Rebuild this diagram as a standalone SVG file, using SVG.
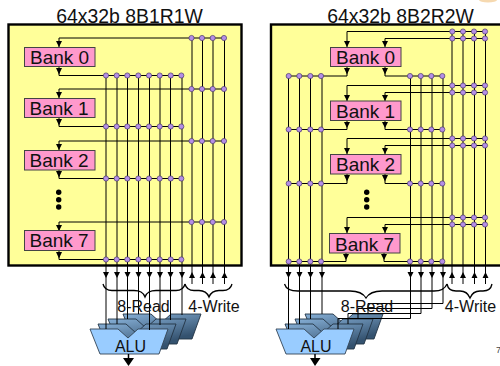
<svg xmlns="http://www.w3.org/2000/svg" width="500" height="366" viewBox="0 0 500 366">
<defs>
<circle id="d" r="2.6" fill="#b48ee6" stroke="#4a3a6a" stroke-width=".7"/>
<linearGradient id="g" x1="0" y1="0" x2="0.6" y2="1"><stop offset="0" stop-color="#86afd6"/><stop offset="1" stop-color="#34526f"/></linearGradient>
<path id="alu" d="M0 0H28L38 9L48 0H78L69 25H10Z" fill="#99ccff" stroke="#334455" stroke-width=".9"/>
<path id="alub" d="M0 0H28L38 9L48 0H78L69 25H10Z" fill="url(#g)" stroke="#223344" stroke-width=".9"/>
</defs>
<style>
.f{fill:#ffff99;stroke:#000;stroke-width:2.4}
.b rect{fill:#ff99cc;stroke:#444;stroke-width:1}
text{font-family:"Liberation Sans",Arial,sans-serif;fill:#111}
.b text{font-size:19px}
.t{font-size:19.4px;text-anchor:middle}
.l{font-size:16px;text-anchor:middle}
.w{fill:none;stroke:#000;stroke-width:1}
.br{fill:none;stroke:#000;stroke-width:1.3}
</style>
<ellipse cx="488" cy="0" rx="9" ry="2.500" fill="#f6d9b0"/>
<text class="t" x="129.500" y="22.500">64x32b 8B1R1W</text>
<text class="t" x="400.500" y="22.500">64x32b 8B2R2W</text>
<rect id="panel1" class="f" x="8.500" y="24.500" width="233" height="241"/>
<rect id="panel2" class="f" x="271" y="24.500" width="240" height="241"/>
<g id="alus1"><use href="#alub" x="123" y="314"/><use href="#alub" x="108" y="319"/><use href="#alub" x="98" y="324"/><use href="#alu" x="90" y="329"/></g>
<g id="alus2"><use href="#alub" x="305" y="314"/><use href="#alub" x="295" y="319"/><use href="#alub" x="285" y="324"/><use href="#alu" x="276" y="329"/></g>
<g id="connectors">
<path class="w" d="M59 38V47M59 38H224M59 89V98M59 89H224M59 141V150M59 141H224M59 222V230M59 222H224"/>
<path class="w" d="M59 67V75.500H181M59 118V126.500H181M59 170V178.500H181M59 251V259.500H181"/>
<path class="w" d="M106 75V329M117 75V324M127.500 75V319M138.500 75V314M149.500 75V330M160 75V325M170.500 75V320M182 75V315"/>
<path class="w" d="M192 38V284M202.500 38V284M213 38V284M224.500 38V284"/>
<path class="w" d="M347 31.500H485M385 38.500H485M347 85.500H485M385 92.500H485M347 138.500H485M385 145.500H485M347 217.500H485M385 224.500H485"/>
<path class="w" d="M347 31.500V47M385 38.500V47M347 85.500V101M385 92.500V101M347 138.500V154M385 145.500V154M347 217.500V233M385 224.500V233"/>
<path class="w" d="M347 67V76H289M385 67V76H443M347 121V129.500H289M385 121V129.500H443M347 174V183.500H289M385 174V183.500H443M346 253V261.500H289M384 253V261.500H443"/>
<path class="w" d="M288.500 76V329M299.500 76V324M310.500 76V319M322 76V314"/>
<path class="w" d="M410.500 76V318.500H338V329M421 76V313.500H348V324M432 76V308.500H358V319M443 76V303.500H368V314"/>
<path class="w" d="M452 31.500V284M463 31.500V284M474.500 31.500V284M485.500 31.500V284"/>
</g>
<g id="arrows" fill="#000">
<path d="M56 41H62L59 47ZM56 92H62L59 98ZM56 144H62L59 150ZM56 225H62L59 231ZM56 68H62L59 74.500ZM56 119H62L59 125.500ZM56 171H62L59 177.500ZM56 252H62L59 258.500Z"/>
<path d="M103 272H109L106 278ZM114 272H120L117 278ZM124.500 272H130.500L127.500 278ZM135.500 272H141.500L138.500 278ZM146.500 272H152.500L149.500 278ZM157 272H163L160 278ZM167.500 272H173.500L170.500 278ZM179 272H185L182 278Z"/>
<path d="M189 278H195L192 272ZM199.500 278H205.500L202.500 272ZM210 278H216L213 272ZM221.500 278H227.500L224.500 272Z"/>
<path d="M344 41H350L347 47ZM382 41H388L385 47ZM344 95H350L347 101ZM382 95H388L385 101ZM344 148H350L347 154ZM382 148H388L385 154ZM344 227H350L347 233ZM382 227H388L385 233ZM344 68H350L347 74.500ZM382 68H388L385 74.500ZM344 122H350L347 128ZM382 122H388L385 128ZM344 175H350L347 181.500ZM382 175H388L385 181.500ZM343 254H349L346 260ZM381 254H387L384 260Z"/>
<path d="M285.500 272H291.500L288.500 278ZM296.500 272H302.500L299.500 278ZM307.500 272H313.500L310.500 278ZM319 272H325L322 278ZM407.500 272H413.500L410.500 278ZM418 272H424L421 278ZM429 272H435L432 278ZM440 272H446L443 278Z"/>
<path d="M449 278H455L452 272ZM460 278H466L463 272ZM471.500 278H477.500L474.500 272ZM482.500 278H488.500L485.500 272Z"/>
</g>
<g id="dots">
<g id="dots1a"><use href="#d" x="106" y="75.500"/><use href="#d" x="116.700" y="75.500"/><use href="#d" x="127.300" y="75.500"/><use href="#d" x="138.300" y="75.500"/><use href="#d" x="149" y="75.500"/><use href="#d" x="159.700" y="75.500"/><use href="#d" x="170.700" y="75.500"/><use href="#d" x="181.300" y="75.500"/></g>
<use href="#dots1a" y="51"/><use href="#dots1a" y="103"/><use href="#dots1a" y="184"/>
<g id="dots1b"><use href="#d" x="191.500" y="38"/><use href="#d" x="202" y="38"/><use href="#d" x="212.700" y="38"/><use href="#d" x="224" y="38"/></g>
<use href="#dots1b" y="51"/><use href="#dots1b" y="103"/><use href="#dots1b" y="184"/>
<g id="dots2a"><use href="#d" x="288.700" y="76"/><use href="#d" x="299.300" y="76"/><use href="#d" x="310.300" y="76"/><use href="#d" x="321" y="76"/><use href="#d" x="410" y="76"/><use href="#d" x="420.700" y="76"/><use href="#d" x="431.300" y="76"/><use href="#d" x="442.300" y="76"/></g>
<use href="#dots2a" y="53.500"/><use href="#dots2a" y="107.500"/><use href="#dots2a" y="185.500"/>
<g id="dots2b"><use href="#d" x="452.300" y="31.500"/><use href="#d" x="463" y="31.500"/><use href="#d" x="474" y="31.500"/><use href="#d" x="485" y="31.500"/><use href="#d" x="452.300" y="38.500"/><use href="#d" x="463" y="38.500"/><use href="#d" x="474" y="38.500"/><use href="#d" x="485" y="38.500"/></g>
<use href="#dots2b" y="54"/><use href="#dots2b" y="107"/><use href="#dots2b" y="186"/>
</g>
<g id="bank1-0" class="b"><rect x="24.500" y="47.500" width="70.500" height="19"/><text x="30" y="63.500">Bank 0</text></g>
<g id="bank1-1" class="b"><rect x="24.500" y="98.500" width="70.500" height="19"/><text x="29.500" y="114.500">Bank 1</text></g>
<g id="bank1-2" class="b"><rect x="24.500" y="150.500" width="70.500" height="19.500"/><text x="29.500" y="166.500">Bank 2</text></g>
<g id="bank1-7" class="b"><rect x="24.500" y="230.500" width="70.500" height="20"/><text x="29.500" y="247">Bank 7</text></g>
<g id="bank2-0" class="b"><rect x="330.500" y="47.500" width="70.500" height="19"/><text x="336" y="63.500">Bank 0</text></g>
<g id="bank2-1" class="b"><rect x="330.500" y="101" width="70.500" height="19.500"/><text x="336" y="117.500">Bank 1</text></g>
<g id="bank2-2" class="b"><rect x="330.500" y="154.500" width="70.500" height="19.500"/><text x="336" y="171">Bank 2</text></g>
<g id="bank2-7" class="b"><rect x="329.500" y="233.500" width="70.500" height="19.500"/><text x="335" y="250.500">Bank 7</text></g>
<g id="vdots" fill="#000"><circle cx="58.700" cy="192.300" r="2.700"/><circle cx="58.700" cy="199.700" r="2.700"/><circle cx="58.700" cy="207" r="2.700"/><circle cx="366.700" cy="192.300" r="2.700"/><circle cx="366.700" cy="199.700" r="2.700"/><circle cx="366.700" cy="207" r="2.700"/></g>
<g id="braces">
<path class="br" d="M103 284C104 288 107 290.500 112 290.500H134C140 290.500 143 292 145 297C147 292 150 290.500 156 290.500H176C181 290.500 184 288 185 284"/>
<path class="br" d="M185 284C186 288 189 290.500 194 290.500H199C204 290.500 207 292 209 297C211 292 214 290.500 219 290.500H223C228 290.500 231 288 232 284"/>
<path class="br" d="M284.500 284C286 289 291 291 298 291H350C358 291 363 293 366 298C369 293 374 291 382 291H434C441 291 445 289 447 284"/>
<path class="br" d="M447 284C448 289 451 291 456 291H460C465 291 468 293 470 298C472 293 475 291 480 291H483C488 291 491 289 492 284"/>
</g>
<text class="l" x="143.500" y="312">8-Read</text><text class="l" x="214" y="312">4-Write</text>
<text class="l" x="367" y="312">8-Read</text><text class="l" x="470.500" y="312">4-Write</text>
<text class="l" x="130.500" y="352">ALU</text><text class="l" x="316" y="352">ALU</text>
<path d="M128.500 354V360M315 354V360" stroke="#000" stroke-width="1.500"/><path d="M123 358H134L128.500 366ZM310 358H320.500L315 366Z"/>
<text x="496" y="353" font-size="9" style="fill:#444">7</text>
</svg>
